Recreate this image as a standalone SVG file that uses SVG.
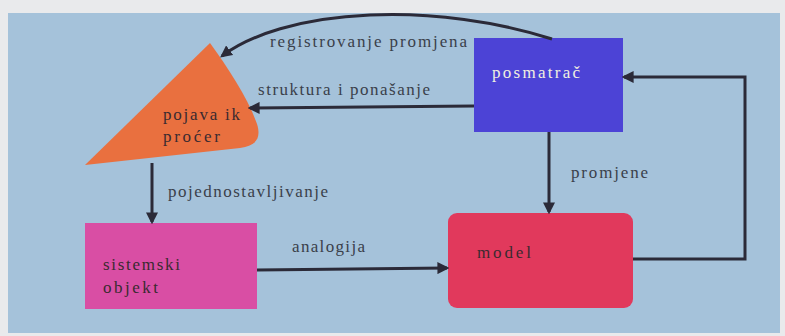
<svg xmlns="http://www.w3.org/2000/svg" width="785" height="336" viewBox="0 0 785 336">
<defs>
<style>
.lbl{font-family:"Liberation Serif",serif;font-size:17px;fill:#3a3f4a}
.nt{font-family:"Liberation Serif",serif;font-size:17px;fill:#3a2a30}
.con{fill:none;stroke:#2b2a38;stroke-width:3}
</style>
<marker id="ah" viewBox="0 0 10 10" refX="8" refY="5" markerWidth="4" markerHeight="4" orient="auto" markerUnits="strokeWidth">
<path d="M0,0 L10,5 L0,10 z" fill="#2b2a38"/>
</marker>
</defs>
<rect x="0" y="0" width="785" height="336" fill="#e9eaec"/>
<rect x="8" y="13" width="772" height="320" fill="#a5c2da"/>
<g id="pojava">
<path d="M210,43 C228,68 248,98 257,124 C262,140 254,146 240,148 L85,165 Z" fill="#e9703f"/>
<text class="nt" x="163" y="120" textLength="77" lengthAdjust="spacing">pojava ik</text>
<text class="nt" x="163" y="142" textLength="57" lengthAdjust="spacing">proćer</text>
</g>
<g id="posmatrac">
<rect x="474" y="38" width="149" height="94" fill="#4c43d6"/>
<text x="492" y="78" textLength="88" lengthAdjust="spacing" style="font-family:'Liberation Serif',serif;font-size:17px;fill:#f2f0e0">posmatrač</text>
</g>
<g id="sistemski">
<rect x="85" y="223" width="172" height="86" fill="#d94ea4"/>
<text class="nt" x="103" y="270" textLength="77" lengthAdjust="spacing">sistemski</text>
<text class="nt" x="103" y="293" textLength="55" lengthAdjust="spacing">objekt</text>
</g>
<g id="model">
<rect x="448" y="213" width="185" height="95" rx="9" fill="#e1395c"/>
<text class="nt" x="477" y="258" textLength="54" lengthAdjust="spacing">model</text>
</g>
<g id="connectors">
<path class="con" d="M552,39 C500,22 430,12 370,15 C300,18 250,35 222,56" marker-end="url(#ah)"/>
<path class="con" d="M474,106 L250,108" marker-end="url(#ah)"/>
<path class="con" d="M152,163 L152,222" marker-end="url(#ah)"/>
<path class="con" d="M257,270 L447,268" marker-end="url(#ah)"/>
<path class="con" d="M549,132 L549,212" marker-end="url(#ah)"/>
<path class="con" d="M633,259 L745,259 L745,77 L624,77" marker-end="url(#ah)"/>
<text class="lbl" x="270" y="47" textLength="197" lengthAdjust="spacing">registrovanje promjena</text>
<text class="lbl" x="258" y="95" textLength="172" lengthAdjust="spacing">struktura i ponašanje</text>
<text class="lbl" x="168" y="197" textLength="160" lengthAdjust="spacing">pojednostavljivanje</text>
<text class="lbl" x="292" y="252" textLength="73" lengthAdjust="spacing">analogija</text>
<text class="lbl" x="571" y="178" textLength="77" lengthAdjust="spacing">promjene</text>
</g>
</svg>
